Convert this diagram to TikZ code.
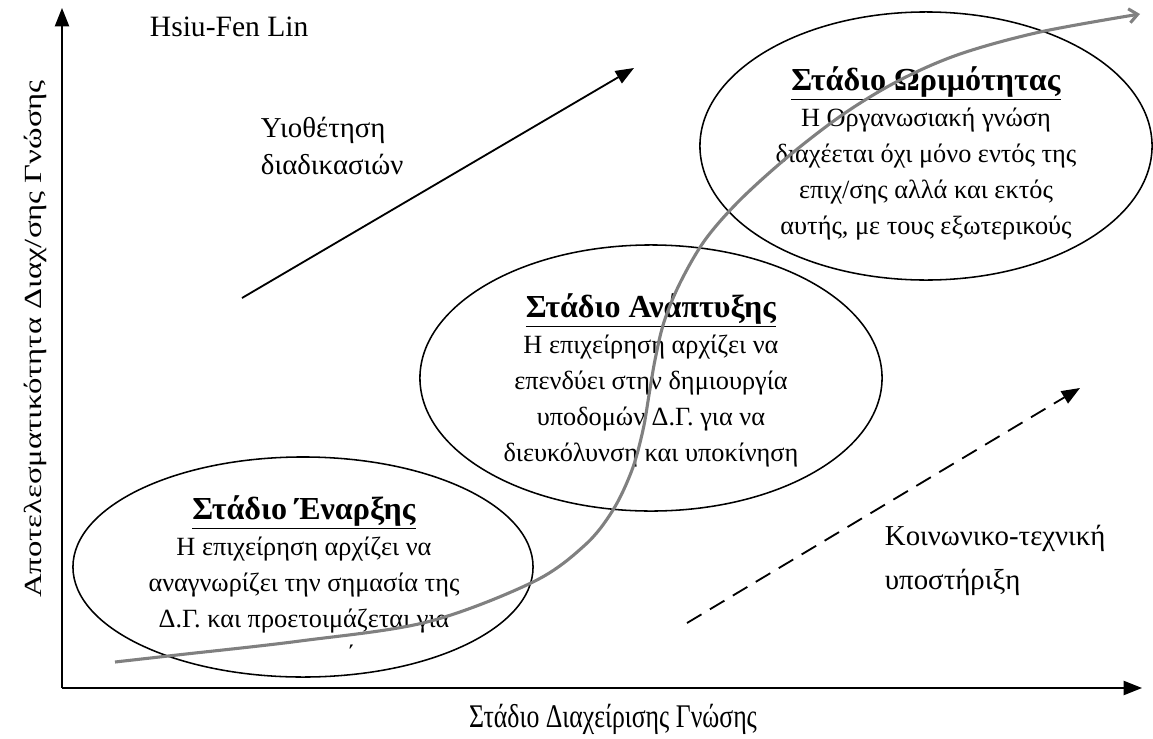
\documentclass[tikz,border=0pt]{standalone}
\usepackage{fontspec}
\setmainfont{Liberation Serif}
\usetikzlibrary{arrows.meta, positioning, shapes.geometric}
\definecolor{sgray}{RGB}{128,128,128}

\newcommand{\stagetitle}[1]{{\fontsize{22.8}{25.6}\selectfont\underline{\textbf{#1}}}}

\tikzset{
  stage/.style={draw, ellipse, line width=1.1pt, inner sep=0pt},
  stagetext/.style={align=center, font=\fontsize{18.7}{25.6}\selectfont},
  axisline/.style={line width=1.3pt, -{Triangle[length=13pt, width=10pt]}},
  trend/.style={line width=1.3pt, -{Triangle[length=13pt, width=10pt]}},
  label/.style={align=left, font=\fontsize{20.5}{26.3}\selectfont},
}

\begin{document}
\begin{tikzpicture}[x=0.025cm, y=-0.025cm]
  \useasboundingbox (0,0) rectangle (1153,738);

  % axes
  \coordinate (orig) at (62,688);
  \coordinate (ytop) at (62,8);
  \coordinate (xend) at (1142,688);
  \draw[axisline] (orig) -- (ytop);
  \draw[axisline] (orig) -- (xend);
  \node[rotate=90, font=\fontsize{17.5}{20}\selectfont] (ylab) at (35,339)
    {\scalebox{1.33}[1]{Αποτελεσματικότητα Διαχ/σης Γνώσης}};
  \node[font=\fontsize{23.5}{25}\selectfont] (xlab) at (613,719)
    {\scalebox{0.78}[1]{Στάδιο Διαχείρισης Γνώσης}};
  \node[anchor=west, font=\fontsize{21}{25}\selectfont] (author) at (145,27) {Hsiu-Fen Lin};

  % the three stages
  \node[stage, minimum width=11.5cm, minimum height=5.5cm] (early) at (303,567) {};
  \node[stage, minimum width=11.55cm, minimum height=6.65cm] (growth) at (651,378) {};
  \node[stage, minimum width=11.3cm, minimum height=6.7cm] (mature) at (926,146) {};

  \node[stagetext] (earlytxt) at (304,580)
    {\stagetitle{Στάδιο Έναρξης}\\
     Η επιχείρηση αρχίζει να\\
     αναγνωρίζει την σημασία της\\
     Δ.Γ. και προετοιμάζεται για\\
     \hspace*{3.6em}΄};
  \node[stagetext] (growthtxt) at (651,380)
    {\stagetitle{Στάδιο Ανάπτυξης}\\
     Η επιχείρηση αρχίζει να\\
     επενδύει στην δημιουργία\\
     υποδομών Δ.Γ. για να\\
     διευκόλυνση και υποκίνηση};
  \node[stagetext] (maturetxt) at (926,153)
    {\stagetitle{Στάδιο Ωριμότητας}\\
     Η Οργανωσιακή γνώση\\
     διαχέεται όχι μόνο εντός της\\
     επιχ/σης αλλά και εκτός\\
     αυτής, με τους εξωτερικούς};

  % driving forces
  \coordinate (proc0) at (242,298);
  \coordinate (proc1) at (634,68);
  \draw[trend] (proc0) -- (proc1);
  \node[label, anchor=west] (proctxt) at (256,146) {Υιοθέτηση\\διαδικασιών};

  \coordinate (soc0) at (687,623);
  \coordinate (soc1) at (1080,388);
  \draw[trend, dash pattern=on 12pt off 7pt] (soc0) -- (soc1);
  \node[label, anchor=west, font=\fontsize{20.5}{31.3}\selectfont] (soctxt) at (880,560)
    {Κοινωνικο-τεχνική\\υποστήριξη};

  % S-curve
  \draw[sgray, line width=2.2pt, -{Straight Barb[length=6pt, width=10pt]}]
    plot[smooth, tension=0.55] coordinates {(115,662) (177,655) (300,641) (427,622)
      (533,582) (585,545) (613,510) (632,470) (643,430) (649,395) (655,360)
      (664,322) (680,283) (705,240) (740,200) (790,155) (845,113) (900,80)
      (960,54) (1040,32) (1140,14)};
\end{tikzpicture}
\end{document}
